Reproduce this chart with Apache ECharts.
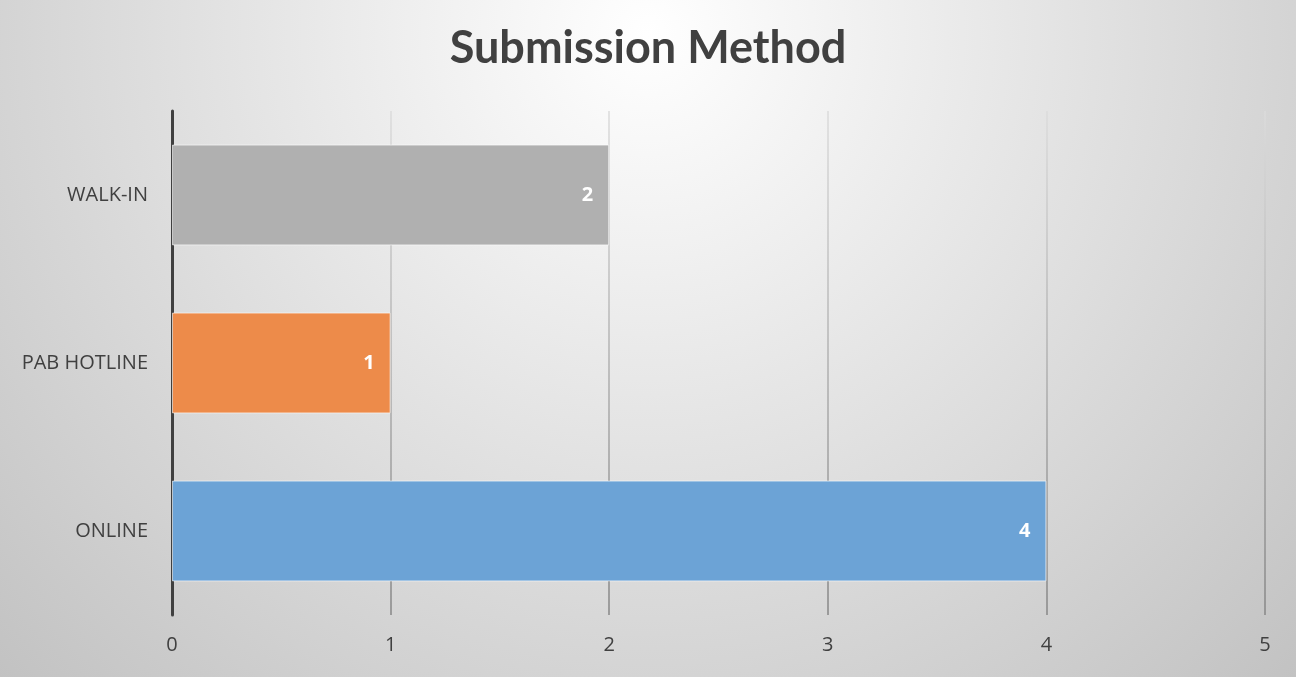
<!DOCTYPE html>
<html>
<head>
<meta charset="utf-8">
<script src="https://cdn.jsdelivr.net/npm/echarts@6/dist/echarts.min.js"></script>
<style>
  html, body { margin: 0; padding: 0; }
  #main { width: 1296px; height: 677px; }
</style>
</head>
<body>
<div id="main"></div>
<script>
// categories listed bottom to top
var categories = ['ONLINE', 'PAB HOTLINE', 'WALK-IN'];
var counts = [4, 1, 2];
var barColors = ['#6ca3d6', '#ed8b4a', '#b0b0b0'];
var xTicks = [0, 1, 2, 3, 4, 5];

var option = {
    animation: false,
    backgroundColor: {
        type: 'radial', x: 0.5, y: 0.05, r: 1.35,
        colorStops: [{ offset: 0, color: '#ffffff' }, { offset: 1, color: '#c2c2c2' }]
    },
    title: {
        text: 'Submission Method',
        left: 'center',
        top: 21,
        textStyle: { fontFamily: 'Lato', fontWeight: 'bold', fontSize: 45, color: '#404040' }
    },
    grid: { left: 172, right: 31, top: 111, bottom: 62 },
    xAxis: {
        type: 'value',
        min: xTicks[0],
        max: xTicks[xTicks.length - 1],
        interval: 1,
        axisLine: { show: false },
        axisTick: { show: false },
        axisLabel: { fontFamily: 'Open Sans', fontSize: 20, color: '#404040', margin: 20 },
        splitLine: {
            lineStyle: {
                width: 1.5,
                color: {
                    type: 'linear', x: 0, y: 0, x2: 0, y2: 1,
                    colorStops: [{ offset: 0, color: '#dcdcdc' }, { offset: 1, color: '#868686' }]
                }
            }
        }
    },
    yAxis: {
        type: 'category',
        data: categories,
        axisLine: { show: true, lineStyle: { color: '#404040', width: 3 } },
        axisTick: { show: false },
        axisLabel: { fontFamily: 'Open Sans', fontSize: 20, color: '#404040', margin: 24 }
    },
    series: [{
        type: 'bar',
        barCategoryGap: '40%',
        data: counts.map(function (v, i) {
            return { value: v, itemStyle: { color: barColors[i] } };
        }),
        itemStyle: { borderColor: 'rgba(255,255,255,0.6)', borderWidth: 1 },
        label: {
            show: true,
            position: 'insideRight',
            distance: 16,
            color: '#ffffff',
            fontFamily: 'Open Sans',
            fontWeight: 'bold',
            fontSize: 20
        }
    }]
};

echarts.init(document.getElementById('main')).setOption(option);
</script>
</body>
</html>
